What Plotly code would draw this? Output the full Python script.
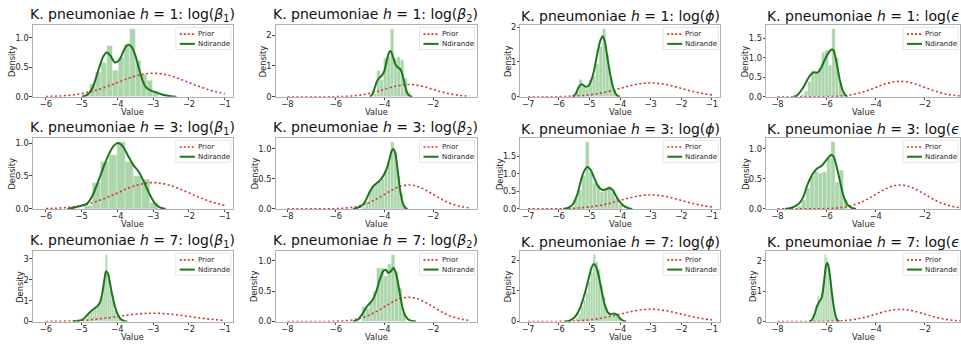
import plotly.graph_objects as go

W, H = 961, 350

# ---------------- data ----------------
ROW_H = ["1", "3", "7"]
PARAMS = ["log(<i>β</i><sub>1</sub>)", "log(<i>β</i><sub>2</sub>)", "log(<i>ϕ</i>)", "log(<i>ϵ</i>)"]
SERIES_NAMES = ["Prior", "Ndirande"]
X_LABEL = "Value"
Y_LABEL = "Density"

X_TICKS = [[-6, -5, -4, -3, -2, -1], [-8, -6, -4, -2], [-7, -6, -5, -4, -3, -2, -1], [-8, -6, -4, -2]]

# prior density, shared grid
prior_x = [-8.0, -7.75, -7.5, -7.25, -7.0, -6.75, -6.5, -6.25, -6.0, -5.75, -5.5, -5.25, -5.0,
           -4.75, -4.5, -4.25, -4.0, -3.75, -3.5, -3.25, -3.0, -2.75, -2.5, -2.25, -2.0,
           -1.75, -1.5, -1.25, -1.0, -0.75, -0.5]
prior_y = [0.0000, 0.0000, 0.0000, 0.0000, 0.0001, 0.0004, 0.0009, 0.0020, 0.0044, 0.0091, 0.0175,
           0.0317, 0.0540, 0.0863, 0.1295, 0.1826, 0.2420, 0.3011, 0.3521, 0.3867, 0.3989,
           0.3867, 0.3521, 0.3011, 0.2420, 0.1826, 0.1295, 0.0863, 0.0540, 0.0317, 0.0175]
prior_extent = [(-6.0, -1.0), (-8.0, -0.5), (-7.0, -1.0), (-8.0, -0.5)]

# h=1
h1_b1_bins = [-4.86, -4.70, -4.54, -4.38, -4.22, -4.06, -3.90, -3.74, -3.58, -3.42, -3.26, -3.10, -2.94]
h1_b1_hist = [0.05, 0.22, 0.42, 0.58, 0.87, 0.45, 0.68, 0.88, 1.15, 0.62, 0.38, 0.28, 0.10]
h1_b1_kx = [-5.0, -4.85, -4.7, -4.55, -4.4, -4.3, -4.2, -4.07, -3.95, -3.85, -3.75, -3.68, -3.6, -3.5,
            -3.4, -3.3, -3.2, -3.05, -2.9, -2.7, -2.5, -2.35]
h1_b1_ky = [0.0, 0.03, 0.15, 0.42, 0.68, 0.75, 0.7, 0.58, 0.62, 0.75, 0.86, 0.88, 0.84, 0.7,
            0.48, 0.28, 0.16, 0.1, 0.07, 0.03, 0.01, 0.0]

h1_b2_bins = [-4.39, -4.25, -4.11, -3.97, -3.83, -3.69, -3.55, -3.41, -3.27, -3.13, -2.99]
h1_b2_hist = [0.10, 0.85, 0.55, 1.25, 1.30, 2.20, 1.25, 1.30, 1.20, 0.60, 0.15]
h1_b2_kx = [-4.6, -4.5, -4.4, -4.3, -4.2, -4.1, -4.0, -3.9, -3.8, -3.74, -3.65, -3.55, -3.45, -3.35,
            -3.25, -3.15, -3.05, -2.95, -2.85]
h1_b2_ky = [0.0, 0.08, 0.3, 0.52, 0.62, 0.7, 0.85, 1.2, 1.45, 1.48, 1.3, 1.05, 0.95, 0.9,
            0.7, 0.35, 0.1, 0.02, 0.0]

h1_phi_bins = [-5.40, -5.29, -5.18, -5.07, -4.96, -4.85, -4.74, -4.63, -4.52, -4.41, -4.30, -4.19]
h1_phi_hist = [0.15, 0.50, 0.30, 0.25, 0.50, 0.60, 0.95, 1.45, 1.95, 1.20, 0.55, 0.20]
h1_phi_kx = [-5.55, -5.45, -5.35, -5.25, -5.15, -5.05, -4.95, -4.85, -4.75, -4.65, -4.57, -4.5,
             -4.4, -4.3, -4.2, -4.1, -4.0]
h1_phi_ky = [0.0, 0.08, 0.28, 0.36, 0.3, 0.3, 0.45, 0.75, 1.2, 1.6, 1.74, 1.6,
             1.05, 0.55, 0.2, 0.04, 0.0]

h1_eps_bins = [-6.98, -6.84, -6.70, -6.56, -6.42, -6.28, -6.14, -6.00, -5.86, -5.72, -5.58, -5.44, -5.30]
h1_eps_hist = [0.05, 0.15, 0.40, 0.68, 0.60, 0.75, 1.15, 1.20, 0.82, 1.75, 1.00, 0.35, 0.10]
h1_eps_kx = [-7.35, -7.2, -7.05, -6.9, -6.75, -6.6, -6.5, -6.4, -6.3, -6.2, -6.1, -6.0, -5.9, -5.8,
             -5.72, -5.65, -5.55, -5.45, -5.35, -5.25, -5.15]
h1_eps_ky = [0.0, 0.04, 0.15, 0.3, 0.48, 0.6, 0.63, 0.62, 0.66, 0.78, 0.92, 1.05, 1.15, 1.22,
             1.2, 1.05, 0.72, 0.4, 0.17, 0.05, 0.0]

# h=3
h3_b1_bins = [-4.82, -4.59, -4.36, -4.13, -3.90, -3.67, -3.44, -3.21, -2.98]
h3_b1_hist = [0.05, 0.40, 0.72, 0.82, 1.02, 0.72, 0.50, 0.45, 0.10]
h3_b1_kx = [-5.4, -5.2, -5.0, -4.85, -4.7, -4.55, -4.4, -4.25, -4.1, -3.98, -3.85, -3.7, -3.55, -3.4,
            -3.25, -3.1, -2.95, -2.8, -2.65]
h3_b1_ky = [0.0, 0.02, 0.05, 0.08, 0.2, 0.4, 0.62, 0.82, 0.96, 1.0, 0.95, 0.8, 0.66, 0.56,
            0.4, 0.22, 0.08, 0.02, 0.0]

h3_b2_bins = [-4.85, -4.72, -4.59, -4.46, -4.33, -4.20, -4.07, -3.94, -3.81, -3.68, -3.55, -3.42, -3.29, -3.16]
h3_b2_hist = [0.03, 0.12, 0.30, 0.38, 0.42, 0.45, 0.50, 0.65, 0.80, 1.12, 0.95, 0.55, 0.25, 0.06]
h3_b2_kx = [-5.3, -5.1, -4.95, -4.8, -4.65, -4.5, -4.35, -4.2, -4.05, -3.9, -3.8, -3.7, -3.63, -3.55,
            -3.45, -3.35, -3.25, -3.15, -3.05]
h3_b2_ky = [0.0, 0.02, 0.05, 0.12, 0.25, 0.36, 0.42, 0.47, 0.55, 0.68, 0.82, 0.97, 1.0, 0.92,
            0.62, 0.3, 0.1, 0.02, 0.0]

h3_phi_bins = [-5.55, -5.43, -5.31, -5.19, -5.07, -4.95, -4.83, -4.71, -4.59, -4.47, -4.35, -4.23, -4.11, -3.99]
h3_phi_hist = [0.05, 0.30, 0.55, 0.95, 1.92, 1.05, 0.75, 0.70, 0.50, 0.55, 0.65, 0.55, 0.30, 0.12]
h3_phi_kx = [-5.85, -5.7, -5.55, -5.4, -5.25, -5.15, -5.06, -4.95, -4.85, -4.75, -4.65, -4.55, -4.45,
             -4.35, -4.25, -4.15, -4.05, -3.9, -3.75, -3.6]
h3_phi_ky = [0.0, 0.03, 0.12, 0.4, 0.9, 1.12, 1.2, 1.1, 0.9, 0.7, 0.58, 0.54, 0.56,
             0.6, 0.55, 0.4, 0.25, 0.1, 0.03, 0.0]

h3_eps_bins = [-7.10, -6.93, -6.76, -6.59, -6.42, -6.25, -6.08, -5.91, -5.74, -5.57, -5.40, -5.23]
h3_eps_hist = [0.05, 0.15, 0.35, 0.55, 0.62, 0.60, 0.62, 0.85, 1.12, 0.45, 0.65, 0.15]
h3_eps_kx = [-7.7, -7.5, -7.3, -7.1, -6.95, -6.8, -6.6, -6.4, -6.2, -6.0, -5.85, -5.78, -5.7, -5.6,
             -5.45, -5.3, -5.15, -5.0, -4.8]
h3_eps_ky = [0.0, 0.01, 0.04, 0.1, 0.2, 0.38, 0.56, 0.67, 0.72, 0.82, 0.89, 0.9, 0.86, 0.72,
             0.45, 0.2, 0.07, 0.02, 0.0]

# h=7
h7_b1_bins = [-4.91, -4.85, -4.79, -4.73, -4.67, -4.61, -4.55, -4.49, -4.43, -4.37, -4.31, -4.25,
              -4.19, -4.13, -4.07, -4.01, -3.95, -3.89]
h7_b1_hist = [0.05, 0.15, 0.30, 0.45, 0.55, 0.60, 0.70, 0.90, 1.20, 1.90, 3.20, 2.30,
              1.50, 1.00, 0.55, 0.30, 0.12, 0.05]
h7_b1_kx = [-5.25, -5.1, -4.95, -4.85, -4.75, -4.65, -4.55, -4.48, -4.42, -4.37, -4.32, -4.27, -4.21,
            -4.15, -4.09, -4.02, -3.95, -3.88, -3.8, -3.72]
h7_b1_ky = [0.0, 0.03, 0.12, 0.3, 0.48, 0.62, 0.75, 0.95, 1.4, 1.95, 2.4, 2.3, 1.85,
            1.3, 0.85, 0.45, 0.2, 0.08, 0.02, 0.0]

h7_b2_bins = [-4.85, -4.70, -4.55, -4.40, -4.25, -4.10, -3.95, -3.80, -3.65, -3.50, -3.35, -3.20]
h7_b2_hist = [0.25, 0.22, 0.32, 0.50, 0.88, 0.88, 0.75, 0.95, 1.10, 0.82, 0.55, 0.15]
h7_b2_kx = [-5.3, -5.1, -4.95, -4.8, -4.65, -4.5, -4.35, -4.2, -4.05, -3.95, -3.85, -3.75, -3.63, -3.55,
            -3.45, -3.35, -3.25, -3.15, -3.0, -2.85, -2.7]
h7_b2_ky = [0.0, 0.03, 0.1, 0.2, 0.28, 0.35, 0.48, 0.68, 0.83, 0.85, 0.8, 0.82, 0.88, 0.82,
            0.65, 0.42, 0.22, 0.1, 0.03, 0.01, 0.0]

h7_phi_bins = [-5.40, -5.32, -5.24, -5.16, -5.08, -5.00, -4.92, -4.84, -4.76, -4.68, -4.60, -4.52,
               -4.44, -4.36, -4.28, -4.20, -4.12, -4.04]
h7_phi_hist = [0.12, 0.25, 0.50, 0.70, 0.95, 1.30, 1.60, 2.18, 1.95, 1.70, 1.20, 0.80,
               0.45, 0.30, 0.20, 0.22, 0.25, 0.12]
h7_phi_kx = [-5.8, -5.65, -5.5, -5.4, -5.3, -5.2, -5.1, -5.0, -4.92, -4.85, -4.78, -4.7, -4.6, -4.5,
             -4.4, -4.3, -4.2, -4.1, -4.0, -3.9, -3.8]
h7_phi_ky = [0.0, 0.03, 0.12, 0.25, 0.45, 0.75, 1.1, 1.5, 1.78, 1.87, 1.78, 1.5, 1.0, 0.55,
             0.3, 0.24, 0.26, 0.22, 0.1, 0.03, 0.0]

h7_eps_bins = [-6.55, -6.48, -6.41, -6.34, -6.27, -6.20, -6.13, -6.06, -5.99, -5.92, -5.85, -5.78, -5.71, -5.64]
h7_eps_hist = [0.05, 0.30, 0.55, 0.85, 0.75, 0.90, 1.30, 2.20, 2.10, 1.90, 1.40, 0.95, 0.50, 0.15]
h7_eps_kx = [-6.7, -6.6, -6.5, -6.4, -6.3, -6.22, -6.15, -6.08, -6.02, -5.97, -5.92, -5.85, -5.78,
             -5.7, -5.62, -5.55, -5.47]
h7_eps_ky = [0.0, 0.05, 0.22, 0.48, 0.66, 0.75, 1.0, 1.5, 1.85, 1.92, 1.8, 1.4, 0.9,
             0.45, 0.15, 0.04, 0.0]

BIN_WIDTHS = [[0.16, 0.14, 0.11, 0.14],
              [0.23, 0.13, 0.12, 0.17],
              [0.06, 0.15, 0.08, 0.07]]

Y_TICKS = [
    [[0, 0.5, 1.0], [0, 1, 2], [0, 1, 2], [0, 0.5, 1.0, 1.5]],
    [[0, 0.5, 1.0], [0, 0.5, 1.0], [0, 0.5, 1.0, 1.5], [0, 0.5, 1.0]],
    [[0, 1, 2, 3], [0, 0.5, 1.0], [0, 1, 2], [0, 1, 2]],
]
Y_TICK_TEXT = [
    [["0.0", "0.5", "1.0"], ["0", "1", "2"], ["0", "1", "2"], ["0.0", "0.5", "1.0", "1.5"]],
    [["0.0", "0.5", "1.0"], ["0.0", "0.5", "1.0"], ["0.0", "0.5", "1.0", "1.5"], ["0.0", "0.5", "1.0"]],
    [["0", "1", "2", "3"], ["0.0", "0.5", "1.0"], ["0", "1", "2"], ["0", "1", "2"]],
]

PANELS = [
    [(h1_b1_bins, h1_b1_hist, h1_b1_kx, h1_b1_ky), (h1_b2_bins, h1_b2_hist, h1_b2_kx, h1_b2_ky),
     (h1_phi_bins, h1_phi_hist, h1_phi_kx, h1_phi_ky), (h1_eps_bins, h1_eps_hist, h1_eps_kx, h1_eps_ky)],
    [(h3_b1_bins, h3_b1_hist, h3_b1_kx, h3_b1_ky), (h3_b2_bins, h3_b2_hist, h3_b2_kx, h3_b2_ky),
     (h3_phi_bins, h3_phi_hist, h3_phi_kx, h3_phi_ky), (h3_eps_bins, h3_eps_hist, h3_eps_kx, h3_eps_ky)],
    [(h7_b1_bins, h7_b1_hist, h7_b1_kx, h7_b1_ky), (h7_b2_bins, h7_b2_hist, h7_b2_kx, h7_b2_ky),
     (h7_phi_bins, h7_phi_hist, h7_phi_kx, h7_phi_ky), (h7_eps_bins, h7_eps_hist, h7_eps_kx, h7_eps_ky)],
]

# ---------------- layout geometry (pixels) ----------------
COL_PX = [(33, 233), (276, 477), (521, 721), (767, 961)]
ROW_PX = [(23, 96), (138.5, 210.7), (254, 326)]
X_RANGES = [(-6.363, -0.776), (-8.48, -0.21), (-7.25, -0.73), (-8.46, -0.57)]

FONT = "DejaVu Sans"
TXT = "#262626"
TICK_SIZE = 8.3
HIST_COLOR = "rgba(0,128,0,0.33)"
KDE_COLOR = "rgb(28,118,28)"
PRIOR_COLOR = "rgb(214,50,50)"

fig = go.Figure()
annotations = []
shapes = []
layout = dict(
    width=W, height=H, margin=dict(l=0, r=0, t=0, b=0),
    paper_bgcolor="white", plot_bgcolor="white", showlegend=False,
    font=dict(family=FONT, size=TICK_SIZE, color=TXT),
    barmode="overlay",
)

k = 0
for r in range(3):
    for c in range(4):
        k += 1
        xa = "x" if k == 1 else f"x{k}"
        ya = "y" if k == 1 else f"y{k}"
        bins, hist, kx, ky = PANELS[r][c]
        lo, hi = prior_extent[c]
        px = [x for x in prior_x if lo <= x <= hi]
        py = [y for x, y in zip(prior_x, prior_y) if lo <= x <= hi]

        fig.add_trace(go.Bar(x=bins, y=hist, width=BIN_WIDTHS[r][c], xaxis=xa, yaxis=ya,
                             marker=dict(color=HIST_COLOR, line=dict(color="rgba(255,255,255,0.55)", width=0.6)),
                             hoverinfo="skip"))
        fig.add_trace(go.Scatter(x=px, y=py, mode="lines", name=SERIES_NAMES[0], xaxis=xa, yaxis=ya,
                                 line=dict(color=PRIOR_COLOR, width=1.6, dash="2px,2.5px", shape="spline")))
        fig.add_trace(go.Scatter(x=kx, y=ky, mode="lines", name=SERIES_NAMES[1], xaxis=xa, yaxis=ya,
                                 line=dict(color=KDE_COLOR, width=2, shape="spline", smoothing=0.8)))

        x0, x1 = COL_PX[c]
        y0, y1 = ROW_PX[r]
        dom_x = [x0 / W, min(x1 / W, 1.0)]
        dom_y = [1 - y1 / H, 1 - y0 / H]
        ymax = max(max(hist), max(ky)) * 1.05

        axis_common = dict(showline=True, mirror=True, linecolor="#b0b0b0", linewidth=1,
                           showgrid=False, zeroline=False, ticks="outside", ticklen=2.5,
                           tickcolor="#444444", tickfont=dict(size=TICK_SIZE, color=TXT))
        layout["xaxis" if k == 1 else f"xaxis{k}"] = dict(
            domain=dom_x, anchor=ya, range=list(X_RANGES[c]), tickvals=X_TICKS[c],
            ticklabelstandoff=-3, **axis_common)
        layout["yaxis" if k == 1 else f"yaxis{k}"] = dict(
            domain=dom_y, anchor=xa, range=[0, ymax], tickvals=Y_TICKS[r][c], ticktext=Y_TICK_TEXT[r][c],
            ticklabelstandoff=-1, **axis_common)

        xd, yd = f"{xa} domain", f"{ya} domain"
        # axis labels
        annotations.append(dict(text=X_LABEL, xref=xd, yref=yd, x=0.5, y=0, yshift=-15,
                                xanchor="center", yanchor="middle", showarrow=False,
                                font=dict(size=TICK_SIZE, color=TXT)))
        wide = max(len(t) for t in Y_TICK_TEXT[r][c]) > 1
        annotations.append(dict(text=Y_LABEL, xref=xd, yref=yd, x=0, y=0.5, xshift=-21 if wide else -12.5,
                                xanchor="center", yanchor="middle", textangle=-90, showarrow=False,
                                font=dict(size=TICK_SIZE, color=TXT)))
        # legend (frame, samples, labels)
        shapes.append(dict(type="rect", xref=xd, yref=yd, xsizemode="pixel", ysizemode="pixel",
                           xanchor=1, yanchor=1, x0=-57, x1=-2, y0=-2, y1=-24,
                           fillcolor="rgba(255,255,255,0.8)", line=dict(color="rgba(210,210,210,0.9)", width=0.6),
                           layer="above"))
        for j, (col, dash, wdt) in enumerate([(PRIOR_COLOR, "2px,2px", 1.6), (KDE_COLOR, "solid", 2)]):
            yy = -8.7 - 9.7 * j
            shapes.append(dict(type="line", xref=xd, yref=yd, xsizemode="pixel", ysizemode="pixel",
                               xanchor=1, yanchor=1, x0=-53, x1=-38, y0=yy, y1=yy,
                               line=dict(color=col, width=wdt, dash=dash), layer="above"))
            annotations.append(dict(text=SERIES_NAMES[j], xref=xd, yref=yd, x=1, y=1,
                                    xshift=-37, yshift=yy, xanchor="left", yanchor="middle",
                                    showarrow=False, font=dict(size=7, color="#222222")))
        # subplot title
        title = f"K. pneumoniae <i>h</i> = {ROW_H[r]}: {PARAMS[c]}"
        annotations.append(dict(
            text=title, xref="paper", yref="paper", x=(x0 + 100) / W, y=1 - y0 / H,
            xanchor="center", yanchor="bottom", showarrow=False, yshift=-1,
            font=dict(family=FONT, size=14, color="#111111")))

layout["annotations"] = annotations
layout["shapes"] = shapes
fig.update_layout(**layout)
fig.write_html("out.html")
